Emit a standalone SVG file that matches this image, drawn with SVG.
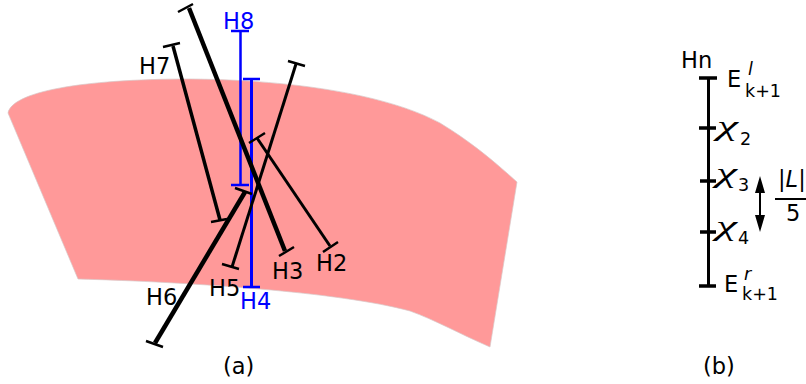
<svg xmlns="http://www.w3.org/2000/svg" width="806" height="384" viewBox="0 0 806 384">
<style>
text{font-family:"DejaVu Sans",sans-serif;font-size:22.500px;fill:#000}
.b{fill:#0000ff}
.s{font-size:17.500px}
.i{font-style:italic;font-size:17.500px}
text.c{font-family:"Liberation Serif",serif;font-style:italic;font-size:27px}
.l{fill:none;stroke:#000;stroke-width:3.500}
.t{fill:none;stroke:#000;stroke-width:4.500}
.m{fill:none;stroke:#000;stroke-width:3}
.cap{fill:none;stroke:#000;stroke-width:2.500}
.bl{fill:none;stroke:#0000ff;stroke-width:2.500}
.bt{fill:none;stroke:#0000ff;stroke-width:3}
</style>
<g id="region"><path d="M8 113C12 92 80 79 190 79C300 80 390 96 440 123C470 141 495 162 517 182L490 347C460 334 435 320 410 311C340 292 190 282 78 279Z" fill="#ff9999" stroke="#d9c8c8" stroke-width="0.7"/></g>
<g id="connectors">
<path class="bl" d="M240.500 31V185M231 31H249M231 185H249"/>
<path class="bt" d="M251.500 79V287"/><path class="bl" d="M243 79H260M243 287H260"/>
<path class="t" d="M189 8L285 251"/><path class="cap" d="M178 12L193 4M279 256L294 247"/>
<path class="l" d="M173 46L220 220"/><path class="cap" d="M163 47L180 43M211 222L227 219"/>
<path class="m" d="M296 64L232 267"/><path class="cap" d="M288 61L305 66M222 264L239 269"/>
<path class="m" d="M257 138L330 246"/><path class="cap" d="M249 143L265 133M323 252L338 242"/>
<path class="t" d="M245 192L155 343"/><path class="cap" d="M235 188L252 194M146 341L163 347"/>
<path class="m" d="M708.500 78V286"/>
<path class="l" d="M699 78H717M699 128H716M700 181H716M700 232H716M699 286H716"/>
<path d="M760 190V220" fill="none" stroke="#000" stroke-width="2"/>
<path d="M760 176L765 193H755ZM760 232L765 215H755Z" fill="#000"/>
<path d="M775 199H806" fill="none" stroke="#000" stroke-width="2"/>
</g>
<g id="h8"><text class="b" x="223" y="29">H8</text></g>
<g id="h7"><text x="139" y="74">H7</text></g>
<g id="h2"><text x="316" y="271">H2</text></g>
<g id="h3"><text x="272" y="279">H3</text></g>
<g id="h4"><text class="b" x="240" y="309">H4</text></g>
<g id="h5"><text x="209" y="296">H5</text></g>
<g id="h6"><text x="146" y="305">H6</text></g>
<g id="a"><text x="223" y="374">(a)</text></g>
<g id="b"><text x="703" y="374">(b)</text></g>
<g id="hn"><text x="681" y="68">Hn</text></g>
<g id="el"><text x="727" y="87">E</text><text class="i" x="748" y="75">l</text><text class="s" x="745" y="97">k+1</text></g>
<g id="x2"><text class="c" x="717" y="135" textLength="21" lengthAdjust="spacingAndGlyphs">χ</text><text class="s" x="740" y="145">2</text></g>
<g id="x3"><text class="c" x="716" y="182" textLength="21" lengthAdjust="spacingAndGlyphs">χ</text><text class="s" x="738" y="191">3</text></g>
<g id="x4"><text class="c" x="716" y="235" textLength="21" lengthAdjust="spacingAndGlyphs">χ</text><text class="s" x="738" y="244">4</text></g>
<g id="er"><text x="724" y="292">E</text><text class="i" x="744" y="280">r</text><text class="s" x="742" y="300">k+1</text></g>
<g id="frac"><text x="778" y="187"><tspan>|</tspan><tspan font-style="italic">L</tspan><tspan>|</tspan></text><text x="786" y="221">5</text></g>
</svg>
